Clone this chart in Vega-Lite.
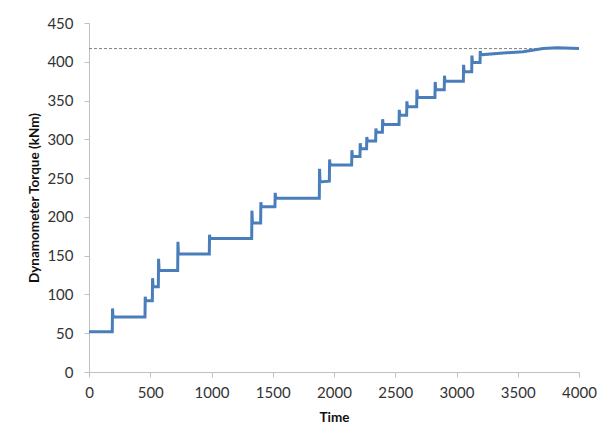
{
  "$schema": "https://vega.github.io/schema/vega-lite/v6.json",
  "width": 490,
  "height": 349,
  "autosize": {"type": "none"},
  "padding": {"left": 89, "top": 23, "right": 19, "bottom": 67},
  "background": "white",
  "config": {
    "view": {"stroke": null},
    "font": "Lato",
    "axis": {
      "grid": false,
      "domainColor": "#c0c0c0",
      "tickColor": "#c0c0c0",
      "tickSize": 5,
      "labelFont": "Lato",
      "labelFontSize": 15,
      "labelColor": "#333333",
      "labelOverlap": false,
      "format": "d",
      "titleFont": "Lato",
      "titleFontSize": 13.5,
      "titleFontWeight": "bold",
      "titleColor": "#111111"
    }
  },
  "datasets": {
    "torque": [
      {"time": 0, "torque": 52},
      {"time": 190, "torque": 52},
      {"time": 192, "torque": 82},
      {"time": 196, "torque": 71},
      {"time": 457, "torque": 71},
      {"time": 459, "torque": 97},
      {"time": 463, "torque": 92},
      {"time": 517, "torque": 92},
      {"time": 519, "torque": 121},
      {"time": 523, "torque": 110},
      {"time": 566, "torque": 110},
      {"time": 568, "torque": 146},
      {"time": 572, "torque": 131},
      {"time": 724, "torque": 131},
      {"time": 726, "torque": 168},
      {"time": 730, "torque": 152},
      {"time": 982, "torque": 152},
      {"time": 984, "torque": 177},
      {"time": 988, "torque": 172},
      {"time": 1328, "torque": 172},
      {"time": 1330, "torque": 208},
      {"time": 1334, "torque": 192},
      {"time": 1401, "torque": 192},
      {"time": 1403, "torque": 219},
      {"time": 1407, "torque": 213},
      {"time": 1518, "torque": 213},
      {"time": 1520, "torque": 231},
      {"time": 1524, "torque": 224},
      {"time": 1880, "torque": 224},
      {"time": 1882, "torque": 262},
      {"time": 1886, "torque": 245},
      {"time": 1962, "torque": 246},
      {"time": 1964, "torque": 274},
      {"time": 1968, "torque": 267},
      {"time": 2144, "torque": 267},
      {"time": 2146, "torque": 286},
      {"time": 2150, "torque": 278},
      {"time": 2212, "torque": 278},
      {"time": 2214, "torque": 295},
      {"time": 2218, "torque": 288},
      {"time": 2266, "torque": 288},
      {"time": 2268, "torque": 303},
      {"time": 2272, "torque": 298},
      {"time": 2340, "torque": 298},
      {"time": 2342, "torque": 314},
      {"time": 2346, "torque": 309},
      {"time": 2395, "torque": 309},
      {"time": 2397, "torque": 326},
      {"time": 2401, "torque": 319},
      {"time": 2531, "torque": 319},
      {"time": 2533, "torque": 338},
      {"time": 2537, "torque": 331},
      {"time": 2593, "torque": 331},
      {"time": 2595, "torque": 349},
      {"time": 2599, "torque": 342},
      {"time": 2675, "torque": 342},
      {"time": 2677, "torque": 364},
      {"time": 2681, "torque": 354},
      {"time": 2824, "torque": 354},
      {"time": 2826, "torque": 374},
      {"time": 2830, "torque": 364},
      {"time": 2900, "torque": 364},
      {"time": 2902, "torque": 382},
      {"time": 2906, "torque": 375},
      {"time": 3056, "torque": 375},
      {"time": 3058, "torque": 396},
      {"time": 3062, "torque": 387},
      {"time": 3124, "torque": 387},
      {"time": 3126, "torque": 408},
      {"time": 3130, "torque": 399},
      {"time": 3192, "torque": 399},
      {"time": 3194, "torque": 414},
      {"time": 3198, "torque": 409},
      {"time": 3355, "torque": 411},
      {"time": 3543, "torque": 413},
      {"time": 3706, "torque": 417},
      {"time": 3820, "torque": 418},
      {"time": 4000, "torque": 417}
    ],
    "limit": [
      {"time": 0, "torque": 417},
      {"time": 4000, "torque": 417}
    ]
  },
  "encoding": {
    "x": {
      "field": "time",
      "type": "quantitative",
      "scale": {"domain": [0, 4000], "nice": false},
      "axis": {"values": [0, 500, 1000, 1500, 2000, 2500, 3000, 3500, 4000], "title": "Time", "labelPadding": 8, "titlePadding": 10, "labelFlush": false}
    },
    "y": {
      "field": "torque",
      "type": "quantitative",
      "scale": {"domain": [0, 450], "nice": false},
      "axis": {"values": [0, 50, 100, 150, 200, 250, 300, 350, 400, 450], "title": "Dynamometer Torque (kNm)", "labelPadding": 11, "titlePadding": 5}
    }
  },
  "layer": [
    {
      "data": {"name": "limit"},
      "mark": {"type": "line", "color": "#7f7f7f", "strokeWidth": 1, "strokeDash": [3, 2]}
    },
    {
      "data": {"name": "torque"},
      "mark": {"type": "line", "color": "#4a7ebb", "strokeWidth": 3, "strokeJoin": "miter"}
    }
  ]
}
